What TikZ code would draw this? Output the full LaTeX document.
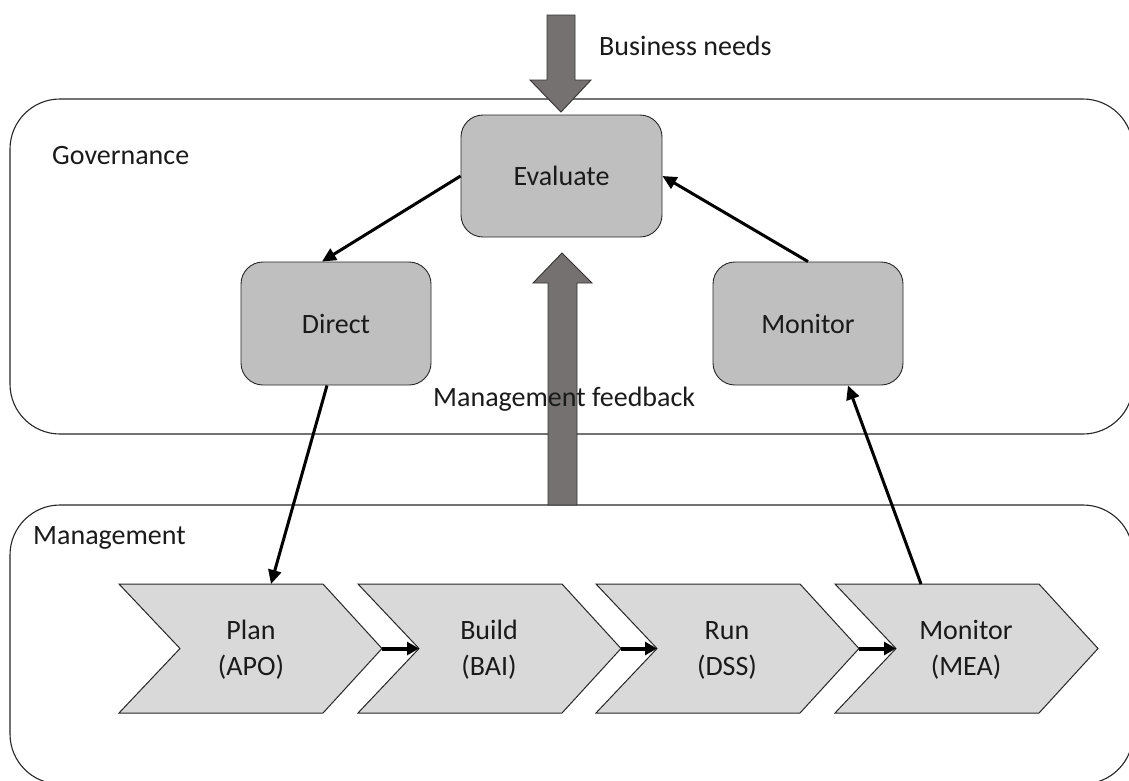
\documentclass[tikz,border=0pt]{standalone}
\usepackage{fontspec}
\setmainfont{Carlito}
\usetikzlibrary{arrows.meta}
\definecolor{boxgray}{HTML}{BFBFBF}
\definecolor{chevgray}{HTML}{D9D9D9}
\definecolor{bigarrow}{HTML}{767171}
\definecolor{txt}{HTML}{1A1A1A}
\begin{document}
\begin{tikzpicture}[x=1pt,y=-1pt,
  font=\fontsize{28}{36}\selectfont, text=txt,
  procbox/.style={draw=black!85, fill=boxgray, rounded corners=22pt, minimum width=190pt, minimum height=123pt, line width=0.9pt},
  region/.style={draw=black!85, line width=1.1pt, rounded corners=50pt},
  flow/.style={line width=3pt, -{Triangle[length=14pt,width=13pt]}},
  smallflow/.style={line width=4pt, -{Triangle[length=12pt,width=13pt]}},
  chev/.style={draw=black!85, fill=chevgray, line width=1pt},
  block/.style={draw=black!80, fill=bigarrow, line width=0.9pt},
  lbl/.style={inner sep=0pt, anchor=west},
  chevtext/.style={align=center, inner sep=0pt}]
\useasboundingbox (0,0) rectangle (1129,780);
\clip (0,0) rectangle (1129,780);
% regions
\draw[region] (10,99) rectangle (1133,434);
\draw[region] (10,505) rectangle (1133,784);
% block arrows
\draw[block] (547,15) -- (575,15) -- (575,80) -- (591,80) -- (561,112) -- (530,80) -- (547,80) -- cycle;
\draw[block] (548,505) -- (548,283) -- (533,283) -- (562,253) -- (592,283) -- (577,283) -- (577,505) -- cycle;
% labels
\node[lbl] (bn) at (599,46) {Business needs};
\node[lbl] (gov) at (52,156) {Governance};
\node[lbl] (mgmt) at (33,538) {Management};
\node[lbl] (fb) at (433,399) {Management feedback};
% governance boxes
\node[procbox, minimum width=201pt, minimum height=122pt] (eval) at (561.5,176) {Evaluate};
\node[procbox] (direct) at (336,323.5) {Direct};
\node[procbox] (monitor) at (808,323.5) {Monitor};
% chevrons
\draw[chev] (119,584) -- (323,584) -- (382,648.5) -- (323,713) -- (119,713) -- (180,648.5) -- cycle;
\draw[chev] (358,584) -- (562,584) -- (621,648.5) -- (562,713) -- (358,713) -- (419,648.5) -- cycle;
\draw[chev] (596,584) -- (800,584) -- (859,648.5) -- (800,713) -- (596,713) -- (657,648.5) -- cycle;
\draw[chev] (835,584) -- (1039,584) -- (1098,648.5) -- (1039,713) -- (835,713) -- (896,648.5) -- cycle;
\coordinate (plantip) at (382,648.5);
\coordinate (buildnotch) at (419,648.5);
\coordinate (buildtip) at (621,648.5);
\coordinate (runnotch) at (657,648.5);
\coordinate (runtip) at (859,648.5);
\coordinate (meanotch) at (896,648.5);
\coordinate (plantop) at (271,584);
\coordinate (meatop) at (921,584);
\node[chevtext] (plan) at (251,650) {Plan\\(APO)};
\node[chevtext] (build) at (489,650) {Build\\(BAI)};
\node[chevtext] (run) at (727,650) {Run\\(DSS)};
\node[chevtext] (mea) at (966,650) {Monitor\\(MEA)};
% connectors
\draw[smallflow] (plantip) -- (buildnotch);
\draw[smallflow] (buildtip) -- (runnotch);
\draw[smallflow] (runtip) -- (meanotch);
\draw[flow] (eval.west) -- ([xshift=-14pt]direct.north);
\draw[flow] (monitor.north) -- (eval.east);
\draw[flow] ([xshift=-9pt]direct.south) -- (plantop);
\draw[flow] (meatop) -- ([xshift=40pt]monitor.south);
\end{tikzpicture}
\end{document}
